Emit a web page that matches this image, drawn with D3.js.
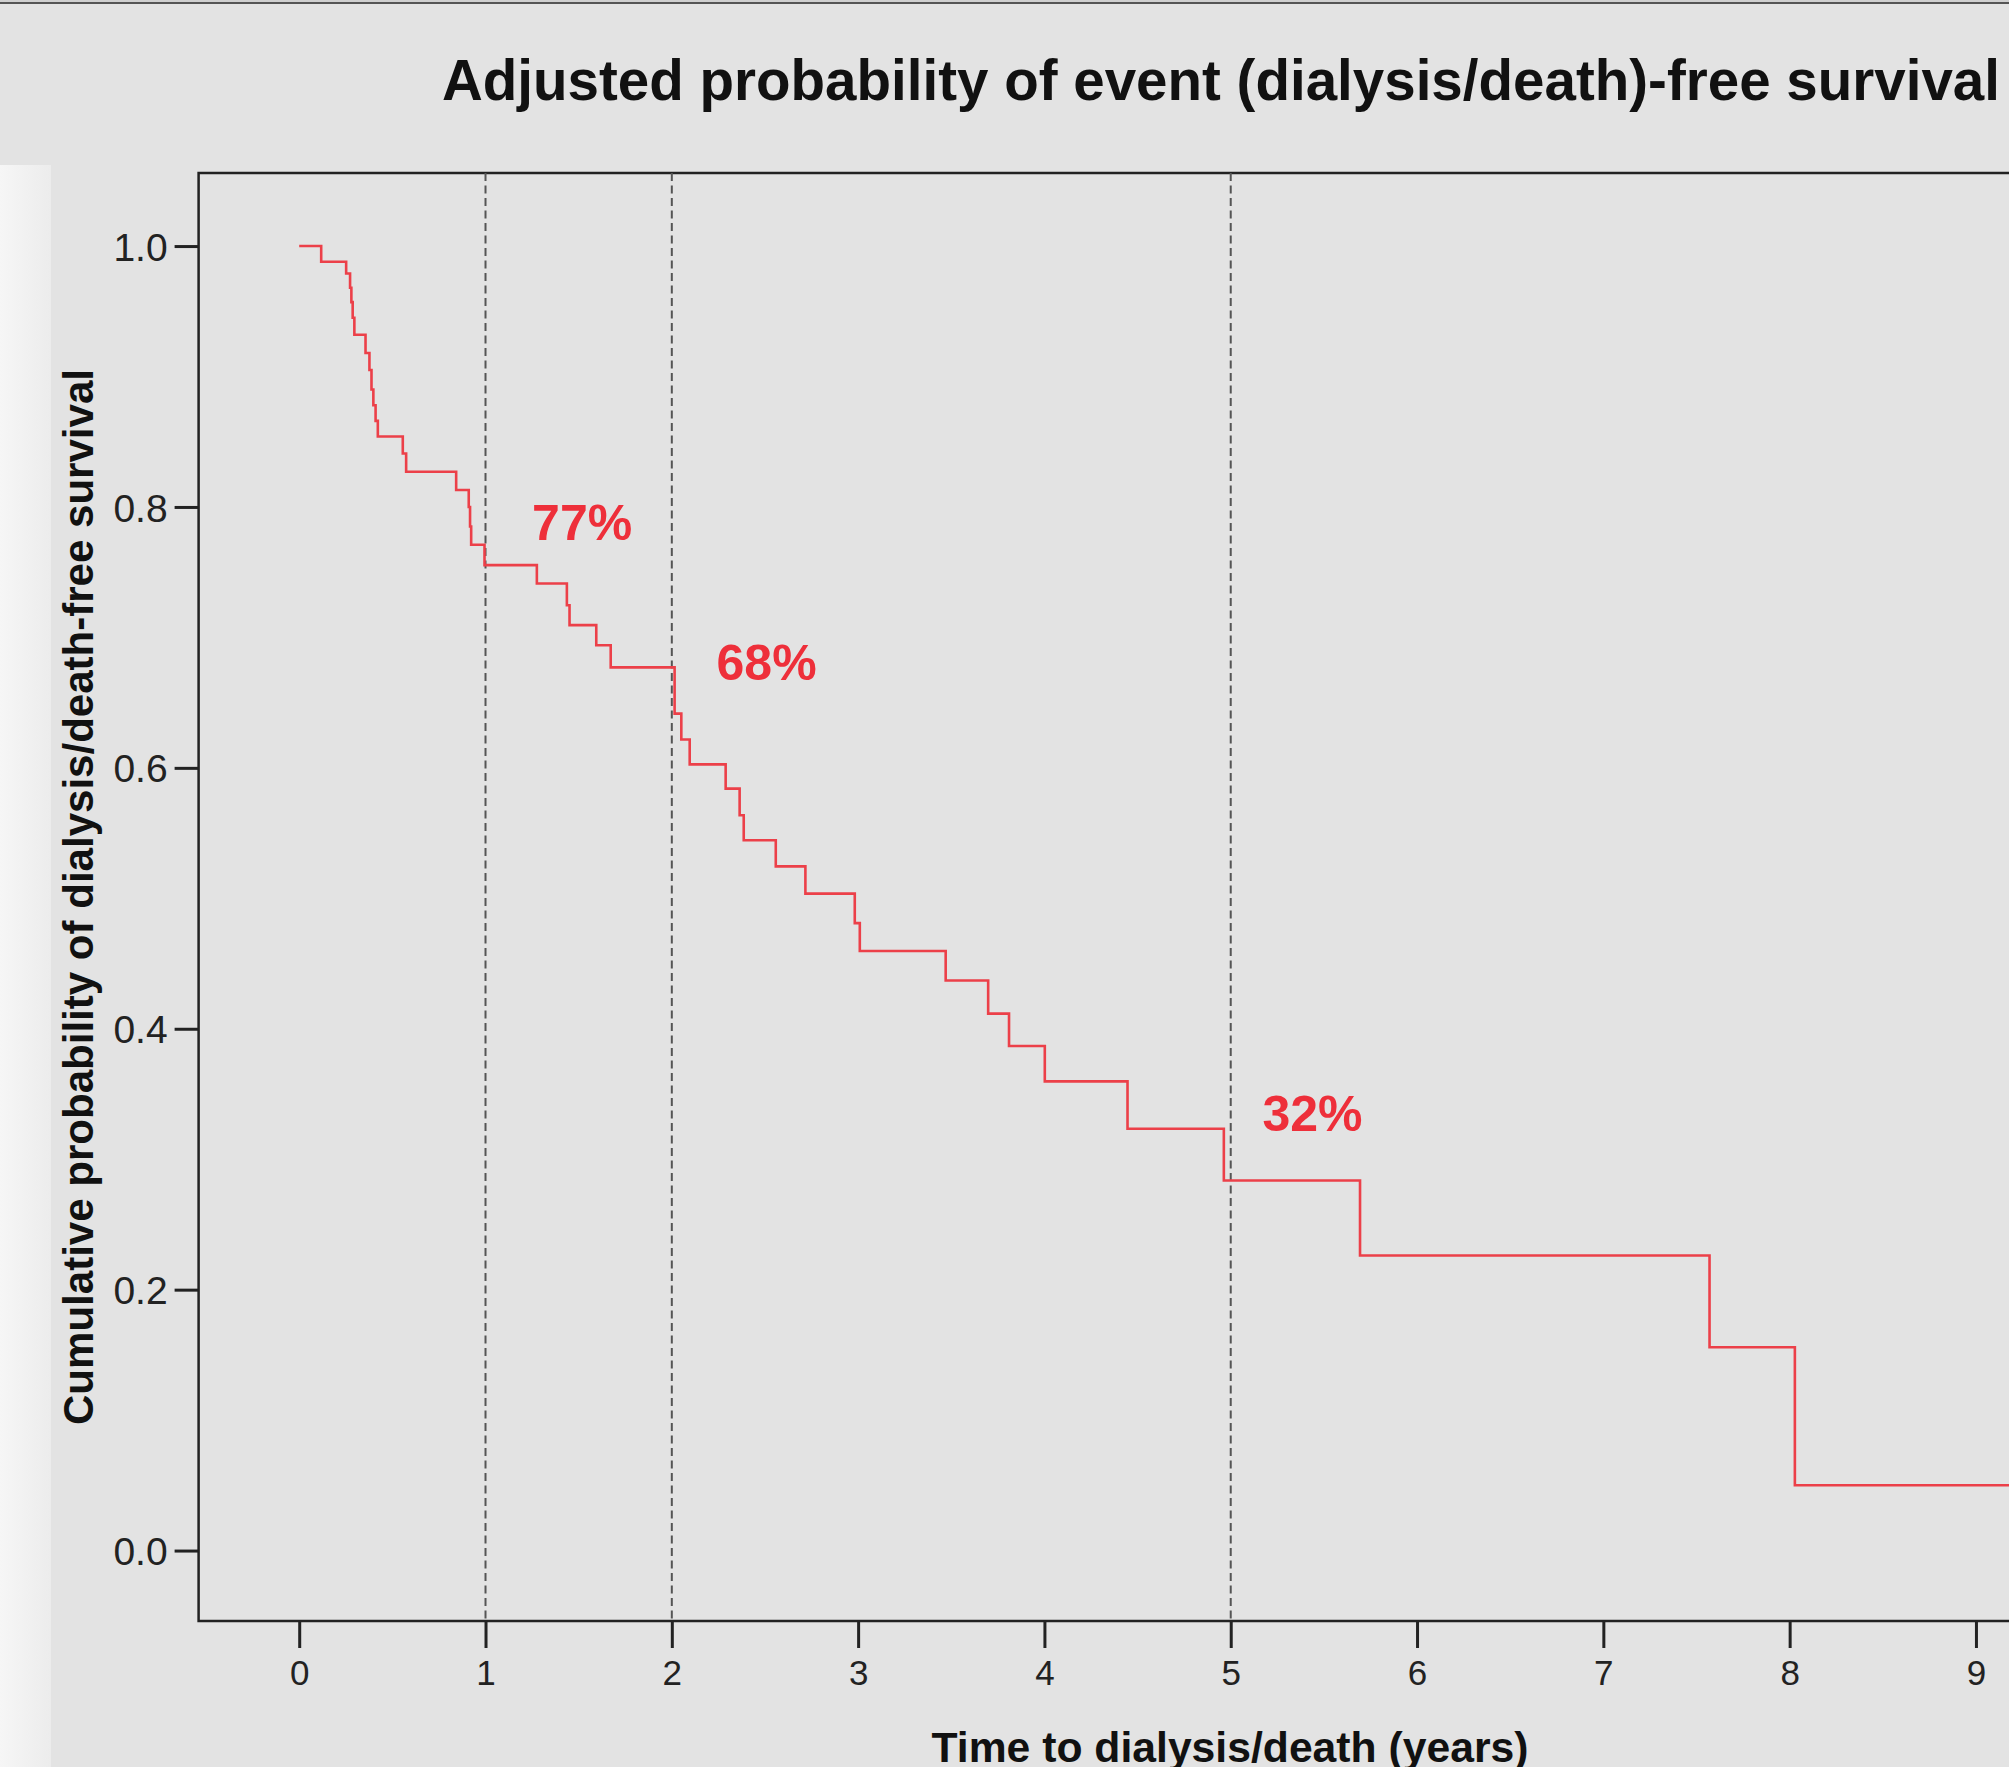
<!DOCTYPE html>
<html>
<head>
<meta charset="utf-8">
<script src="https://cdn.jsdelivr.net/npm/d3@7"></script>
<style>
  html, body { margin: 0; padding: 0; background: #e3e3e3; overflow: hidden; }
  svg { display: block; font-family: "Liberation Sans", Arial, sans-serif; }
</style>
</head>
<body>
<svg id="chart"></svg>
<script>
// step points of the adjusted survival curve (years, survival after the step)
const times = [0, 0.118, 0.252, 0.273, 0.280, 0.287, 0.296, 0.356, 0.377, 0.388, 0.398, 0.410, 0.422,
  0.556, 0.574, 0.8425, 0.910, 0.917, 0.923, 0.9946, 1.2756, 1.4367, 1.451, 1.5945, 1.672,
  2.015, 2.051, 2.096, 2.289, 2.364, 2.386, 2.558, 2.717, 2.982, 3.009, 3.470, 3.698, 3.810,
  4.002, 4.446, 4.963, 5.694, 7.570, 8.028, 9.6];
const survival = [1.0, 0.988, 0.979, 0.968, 0.957, 0.945, 0.932, 0.918, 0.905, 0.890, 0.878, 0.866, 0.854,
  0.841, 0.827, 0.813, 0.800, 0.785, 0.771, 0.7554, 0.7413, 0.7247, 0.7094, 0.694, 0.677,
  0.6416, 0.6217, 0.6027, 0.5841, 0.5637, 0.5445, 0.5245, 0.5036, 0.481, 0.4596, 0.437, 0.4116, 0.3868,
  0.3597, 0.3234, 0.2837, 0.2262, 0.1558, 0.0501, 0.0501];

const refYears = [1, 2, 5];
const annoLabels = ["77%", "68%", "32%"];
const annoAt = [[1.25, 0.775], [2.24, 0.667], [5.17, 0.322]];

const xTicks = [0, 1, 2, 3, 4, 5, 6, 7, 8, 9];
const yTicks = [0.0, 0.2, 0.4, 0.6, 0.8, 1.0];

const titleText = "Adjusted probability of event (dialysis/death)-free survival";
const xLabel = "Time to dialysis/death (years)";
const yLabel = "Cumulative probability of dialysis/death-free survival";

const width = 2009, height = 1767;
const frame = { left: 198.6, right: 2261, top: 173, bottom: 1621 };

const svg = d3.select("#chart").attr("width", width).attr("height", height);

// page background + lighter strip on the left
svg.append("rect").attr("width", width).attr("height", height).attr("fill", "#e3e3e3");
const grad = svg.append("defs").append("linearGradient").attr("id", "strip")
  .attr("x1", 0).attr("x2", 1).attr("y1", 0).attr("y2", 0);
grad.append("stop").attr("offset", 0).attr("stop-color", "#f6f6f6");
grad.append("stop").attr("offset", 1).attr("stop-color", "#ececec");
svg.append("rect").attr("x", 0).attr("y", 165).attr("width", 51).attr("height", height - 165)
  .attr("fill", "url(#strip)");
svg.append("rect").attr("x", 0).attr("y", 0).attr("width", width).attr("height", 2).attr("fill", "#d0d0d0");
svg.append("line").attr("x1", 0).attr("x2", width).attr("y1", 3).attr("y2", 3)
  .attr("stroke", "#555").attr("stroke-width", 2);

const x = d3.scaleLinear().domain([-0.54, 10.53]).range([frame.left, frame.right]);
const y = d3.scaleLinear().domain([-0.054, 1.056]).range([frame.bottom, frame.top]);

// plot frame
svg.append("rect")
  .attr("x", frame.left).attr("y", frame.top)
  .attr("width", frame.right - frame.left).attr("height", frame.bottom - frame.top)
  .attr("fill", "#e3e3e3").attr("stroke", "#222").attr("stroke-width", 2.5);

svg.append("clipPath").attr("id", "plotclip").append("rect")
  .attr("x", frame.left).attr("y", frame.top)
  .attr("width", frame.right - frame.left).attr("height", frame.bottom - frame.top);

// dashed reference lines
svg.append("g").selectAll("line").data(refYears).join("line")
  .attr("x1", d => x(d)).attr("x2", d => x(d))
  .attr("y1", frame.top).attr("y2", frame.bottom)
  .attr("stroke", "#555").attr("stroke-width", 2)
  .attr("stroke-dasharray", "8,4.5");

// survival curve
const pts = times.map((t, i) => [t, survival[i]]);
const line = d3.line().x(d => x(d[0])).y(d => y(d[1])).curve(d3.curveStepAfter);
svg.append("path").datum(pts)
  .attr("clip-path", "url(#plotclip)")
  .attr("fill", "none").attr("stroke", "#ec4049").attr("stroke-width", 2.6)
  .attr("d", line);

// annotations
svg.append("g").selectAll("text").data(annoLabels).join("text")
  .attr("x", (d, i) => x(annoAt[i][0])).attr("y", (d, i) => y(annoAt[i][1]))
  .attr("font-size", 50).attr("font-weight", "bold").attr("fill", "#ee2f3a")
  .text(d => d);

// axes
const xAxis = svg.append("g").attr("transform", `translate(0,${frame.bottom})`)
  .call(d3.axisBottom(x).tickValues(xTicks).tickFormat(d3.format("d")).tickSize(27).tickPadding(12));
const yAxis = svg.append("g").attr("transform", `translate(${frame.left},0)`)
  .call(d3.axisLeft(y).tickValues(yTicks).tickFormat(d3.format(".1f")).tickSize(24).tickPadding(7));
[xAxis, yAxis].forEach(g => {
  g.select(".domain").remove();
  g.selectAll(".tick line").attr("stroke", "#222").attr("stroke-width", 3);
  g.selectAll(".tick text").attr("fill", "#222").attr("font-family", "'Liberation Sans', Arial, sans-serif");
});
xAxis.selectAll(".tick text").attr("font-size", 35);
yAxis.selectAll(".tick text").attr("font-size", 39).attr("dy", "0.36em");

// title and axis labels
svg.append("text").attr("x", 442).attr("y", 100)
  .attr("font-size", 57).attr("font-weight", "bold").attr("fill", "#111")
  .attr("textLength", 1558).attr("lengthAdjust", "spacingAndGlyphs")
  .text(titleText);

svg.append("text").attr("x", 1230).attr("y", 1762)
  .attr("text-anchor", "middle").attr("font-size", 43).attr("font-weight", "bold").attr("fill", "#111")
  .attr("textLength", 597).attr("lengthAdjust", "spacingAndGlyphs")
  .text(xLabel);

svg.append("text").attr("transform", "translate(93,897) rotate(-90)")
  .attr("text-anchor", "middle").attr("font-size", 43).attr("font-weight", "bold").attr("fill", "#111")
  .attr("textLength", 1056).attr("lengthAdjust", "spacingAndGlyphs")
  .text(yLabel);
</script>
</body>
</html>
